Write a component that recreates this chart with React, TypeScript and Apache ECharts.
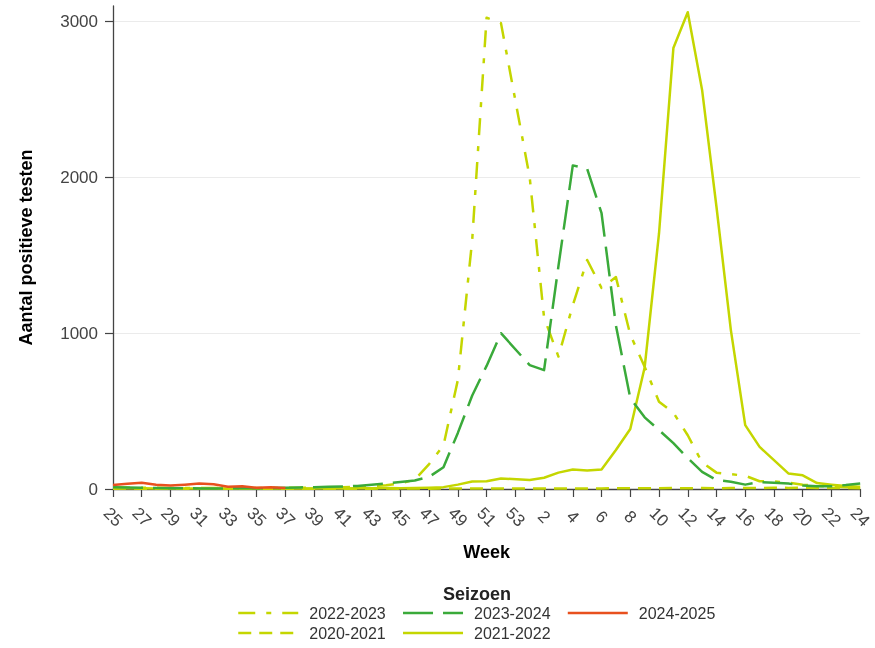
import React, { useEffect, useRef } from 'react';
import * as echarts from 'echarts';

const weeks: string[] = [
  '25', '26', '27', '28', '29', '30', '31', '32', '33', '34', '35', '36', '37', '38', '39',
  '40', '41', '42', '43', '44', '45', '46', '47', '48', '49', '50', '51', '52', '53',
  '1', '2', '3', '4', '5', '6', '7', '8', '9', '10', '11', '12', '13', '14', '15', '16',
  '17', '18', '19', '20', '21', '22', '23', '24',
];

const yTicks: number[] = [0, 1000, 2000, 3000];

// weeks 25..53, then 1..24
const s2020_2021: (number | null)[] = [
  2, 3, 2, 2, 1, 2, 1, 1, 2, 1, 1, 2, 1, 2, 1, 2, 2, 1, 2, 3, 2, 3, 2, 3, 3, 4, 3, 4, 3,
  3, 4, 3, 4, 3, 4, 5, 4, 5, 5, 6, 5, 6, 5, 6, 7, 6, 8, 7, 8, 6, 7, 6, 5,
];
const s2021_2022: (number | null)[] = [
  6, 5, 5, 4, 4, 3, 3, 3, 2, 3, 3, 4, 3, 4, 4, 5, 4, 5, 5, 6, 5, 6, 8, 12, 28, 48, 50, 68, null,
  58, 72, 105, 125, 118, 125, 250, 385, 780, 1640, 2830, 3060, 2560, 1810, 1020, 410,
  270, 185, 100, 88, 38, 28, 20, 15,
];
const s2022_2023: (number | null)[] = [
  10, 9, 8, 8, 7, 7, 6, 6, 6, 5, 6, 6, 7, 8, 9, 10, 12, 14, 18, 24, 35, 60, 160, 280, 700, 1600, 3025, 2990, null,
  2000, 1100, 850, 1180, 1470, 1290, 1360, 990, 785, 560, 490, 345, 170, 105, 95, 85,
  50, 48, 40, 28, 20, 15, 12, 10,
];
const s2023_2024: (number | null)[] = [
  12, 10, 8, 6, 5, 5, 4, 4, 4, 5, 5, 6, 8, 10, 12, 14, 16, 20, 28, 35, 45, 55, 78, 140, 360, 600, 790, 1000, null,
  795, 763, 1430, 2077, 2055, 1770, 1050, 583, 460, 378, 294, 198, 110, 58, 47, 28,
  45, 40, 35, 22, 18, 18, 25, 35,
];
const s2024_2025: (number | null)[] = [
  26, 34, 40, 28, 22, 28, 36, 30, 14, 18, 8, 12, 6,
];

const legendRow1: string[] = ['2022-2023', '2023-2024', '2024-2025'];
const legendRow2: string[] = ['2020-2021', '2021-2022'];

const YG = '#c4d600';
const GREEN = '#3aaa3a';
const ORANGE = '#e8501e';

const FONT = '"Liberation Sans", Arial, sans-serif';

function lineSeries(name: string, data: (number | null)[], color: string, type: any) {
  return {
    name,
    type: 'line',
    data,
    symbol: 'none',
    showSymbol: false,
    connectNulls: true,
    lineStyle: { color, width: 2.5, type, cap: 'butt', join: 'round' },
    itemStyle: { color },
    emphasis: { disabled: true },
  };
}

const legendBase = {
  orient: 'horizontal',
  left: 232,
  itemWidth: 60,
  itemHeight: 14,
  itemGap: 16,
  selectedMode: false,
  textStyle: { fontSize: 16, color: '#333', fontFamily: FONT, padding: [0, 0, 0, 6] },
  itemStyle: { opacity: 0 },
  lineStyle: { width: 2.5 },
};

export default function App() {
  const ref = useRef<HTMLDivElement>(null);
  useEffect(() => {
    const chart = echarts.init(ref.current!, null, { renderer: 'svg' });
    chart.setOption({
      animation: false,
      textStyle: { fontFamily: FONT },
      title: {
        text: 'Seizoen',
        left: 438,
        top: 580,
        textStyle: { fontSize: 18, fontWeight: 'bold', color: '#222', fontFamily: FONT },
      },
      legend: [
        { ...legendBase, top: 600, data: legendRow1 },
        { ...legendBase, top: 620, data: legendRow2 },
      ],
      grid: { left: 113, top: 6, width: 752, height: 483 },
      xAxis: {
        type: 'category',
        data: weeks,
        boundaryGap: false,
        axisLine: { show: true, lineStyle: { color: '#444', width: 1.3 } },
        axisTick: { show: true, interval: 1, length: 8, lineStyle: { color: '#444', width: 1.2 } },
        axisLabel: {
          interval: 1,
          rotate: -45,
          align: 'center',
          verticalAlign: 'middle',
          margin: 28,
          fontSize: 17,
          color: '#444',
          fontFamily: FONT,
        },
        splitLine: { show: false },
        name: 'Week',
        nameLocation: 'middle',
        nameGap: 54,
        nameTextStyle: { fontSize: 18, fontWeight: 'bold', color: '#000', fontFamily: FONT },
      },
      yAxis: {
        type: 'value',
        min: 0,
        max: 3100,
        interval: 1000,
        axisLine: { show: true, lineStyle: { color: '#444', width: 1.3 } },
        axisTick: { show: true, length: 8, lineStyle: { color: '#444', width: 1.2 }, customValues: yTicks },
        axisLabel: {
          customValues: yTicks,
          formatter: (v: number) => String(v),
          fontSize: 17,
          color: '#444',
          margin: 15,
          fontFamily: FONT,
        },
        splitLine: { show: true, lineStyle: { color: '#ebebeb', width: 1 } },
        name: 'Aantal positieve testen',
        nameLocation: 'middle',
        nameGap: 78,
        nameTextStyle: { fontSize: 18, fontWeight: 'bold', color: '#000', fontFamily: FONT },
      },
      series: [
        lineSeries('2020-2021', s2020_2021, YG, [13, 8]),
        lineSeries('2021-2022', s2021_2022, YG, 'solid'),
        lineSeries('2022-2023', s2022_2023, YG, [17, 11, 5, 11]),
        lineSeries('2023-2024', s2023_2024, GREEN, [30, 10]),
        lineSeries('2024-2025', s2024_2025, ORANGE, 'solid'),
      ],
    });
    return () => chart.dispose();
  }, []);
  return <div ref={ref} style={{ position: 'fixed', left: 0, top: 0, width: 875, height: 648 }} />;
}
